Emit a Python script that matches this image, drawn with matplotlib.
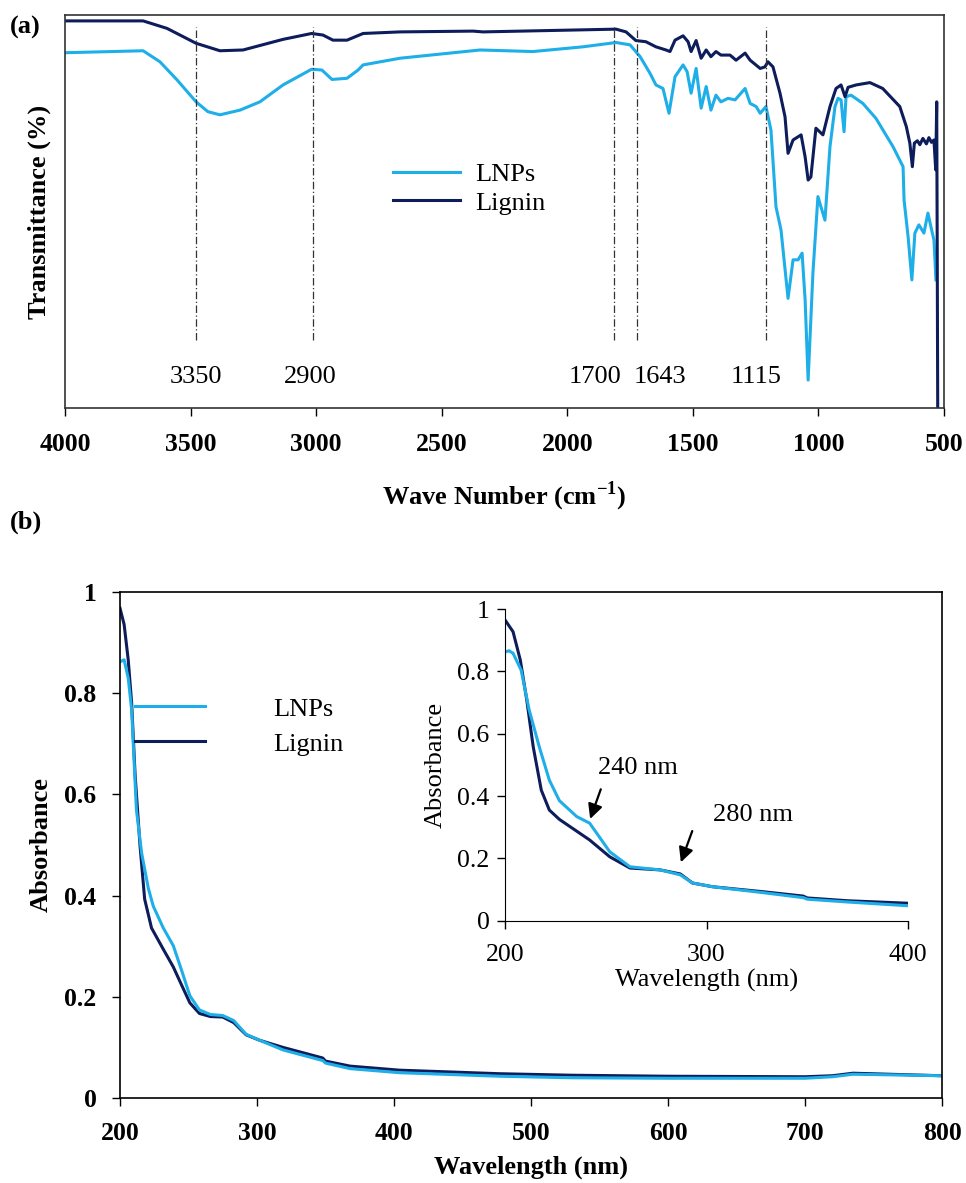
import numpy as np
import matplotlib
matplotlib.use('Agg')
import matplotlib.pyplot as plt
from matplotlib.ticker import FuncFormatter

plt.rcParams['font.family'] = ['Liberation Serif', 'DejaVu Serif']
plt.rcParams['mathtext.fontset'] = 'custom'
plt.rcParams['mathtext.rm'] = 'Liberation Serif'
plt.rcParams['mathtext.bf'] = 'Liberation Serif:bold'

c_lnp = '#1eaee8'
c_lig = '#0d1c5a'

# (a) FTIR spectra (arbitrary transmittance units)
wn_lig = [4000, 3689, 3594, 3478, 3383, 3291, 3132, 3018, 2973, 2933, 2877, 2813, 2666, 2375,
          2336, 1806, 1766, 1727, 1687, 1647, 1607, 1591, 1571, 1539, 1519, 1507, 1487, 1467,
          1447, 1428, 1408, 1388, 1352, 1328, 1292, 1272, 1232, 1213, 1201, 1181, 1153, 1133,
          1121, 1101, 1069, 1053, 1041, 1030, 1010, 982, 954, 930, 910, 894, 882, 850, 795,
          744, 676, 650, 636, 626, 618, 606, 596, 584, 570, 560, 550, 540, 533, 529, 527, 525]
t_lig = [98.5, 98.5, 96.6, 92.8, 90.9, 91.1, 93.8, 95.3, 94.9, 93.6, 93.6, 95.3, 95.7, 95.9,
         95.7, 96.4, 95.7, 93.5, 93.2, 91.9, 91.1, 90.7, 93.6, 94.7, 93.2, 90.7, 93.5, 89.0,
         91.1, 89.4, 90.7, 89.8, 89.8, 88.5, 90.3, 88.5, 86.4, 86.8, 88.1, 86.8, 80.1, 74.1,
         64.8, 68.2, 69.5, 63.9, 58.0, 58.8, 71.2, 69.5, 76.7, 81.3, 82.2, 79.2, 81.6, 82.2, 82.8,
         81.3, 76.7, 71.6, 67.4, 61.4, 67.4, 68.0, 67.0, 68.6, 67.2, 68.8, 67.6, 68.2, 60.6, 77.9, 40.0, 0.0]

wn_lnp = [4000, 3689, 3622, 3554, 3478, 3431, 3383, 3303, 3224, 3132, 3018, 2977, 2937, 2877,
          2833, 2813, 2666, 2347, 2137, 1938, 1806, 1750, 1710, 1671, 1647, 1619, 1595, 1571,
          1539, 1523, 1507, 1487, 1467, 1447, 1428, 1408, 1388, 1360, 1332, 1292, 1272, 1248,
          1232, 1209, 1189, 1169, 1149, 1121, 1101, 1081, 1065, 1053, 1041, 1022, 1002, 990,
          974, 954, 934, 922, 910, 898, 890, 870, 823, 771, 703, 663, 659, 643, 628, 616, 600,
          580, 564, 552, 540, 532]
t_lnp = [90.4, 90.9, 88.1, 83.5, 77.9, 75.4, 74.6, 75.8, 77.9, 82.2, 86.2, 86.0, 83.6, 83.9,
         86.0, 87.3, 89.0, 91.1, 90.7, 91.9, 93.0, 92.4, 89.4, 85.2, 82.2, 81.3, 75.0, 84.3,
         87.3, 85.6, 80.1, 86.4, 76.3, 81.8, 75.8, 79.6, 77.9, 78.8, 78.4, 81.3, 77.5, 76.7,
         75.0, 76.7, 70.7, 51.2, 45.3, 27.9, 37.7, 37.7, 39.4, 27.5, 7.1, 34.3, 53.8, 51.2,
         47.8, 66.5, 76.7, 78.8, 78.4, 70.3, 79.2, 79.6, 77.5, 73.7, 66.5, 61.4, 52.9, 43.6,
         32.6, 44.5, 46.6, 44.5, 49.6, 46.1, 42.7, 32.6]

mark_pos = [3478, 3014, 1815, 1722, 1210]
mark_text = ['3350', '2900', '1700', '1643', '1115']
mark_text_x = [3478, 3025, 1891, 1632, 1249]

# (b) UV-Vis spectra, full range
wl_lig = [200, 203, 206, 208.5, 211, 214.6, 218, 223, 231.6, 238.9, 245, 251, 258, 266, 275, 283,
          292, 302, 319, 348, 350, 368, 404, 477, 530, 600, 700, 720, 735, 800]
a_lig = [0.968, 0.936, 0.866, 0.781, 0.640, 0.499, 0.393, 0.336, 0.294, 0.259, 0.223, 0.188,
         0.167, 0.161, 0.160, 0.149, 0.125, 0.114, 0.100, 0.079, 0.073, 0.063, 0.055, 0.048,
         0.045, 0.043, 0.042, 0.044, 0.049, 0.044]
wl_lnp = [200, 203, 206, 208.5, 212, 215.8, 220.7, 224.3, 231.6, 238.9, 245, 251, 258, 266, 275,
          283, 292, 302, 319, 348, 350, 368, 404, 477, 530, 600, 700, 720, 735, 800]
a_lnp = [0.862, 0.866, 0.830, 0.767, 0.569, 0.484, 0.414, 0.379, 0.336, 0.301, 0.252, 0.202,
         0.174, 0.165, 0.163, 0.153, 0.126, 0.114, 0.095, 0.074, 0.069, 0.058, 0.050, 0.043,
         0.040, 0.039, 0.039, 0.042, 0.047, 0.044]

# inset, 200-400 nm
wl_in_lig = [200, 204, 207.6, 210.8, 214, 218, 222, 227, 242, 252, 262, 277, 287, 293, 303,
             328, 348, 350, 370, 400]
a_in_lig = [0.965, 0.927, 0.836, 0.708, 0.558, 0.419, 0.355, 0.325, 0.259, 0.205, 0.169, 0.163,
            0.150, 0.121, 0.109, 0.093, 0.079, 0.073, 0.064, 0.056]
wl_in_lnp = [200, 202, 204, 208, 212, 217, 222, 227, 235.6, 242, 252, 262, 277, 287, 293, 303,
             328, 348, 350, 370, 400]
a_in_lnp = [0.862, 0.866, 0.858, 0.804, 0.676, 0.558, 0.451, 0.385, 0.334, 0.313, 0.221, 0.173,
            0.163, 0.147, 0.121, 0.109, 0.090, 0.074, 0.069, 0.060, 0.048]

fig = plt.figure(figsize=(9.66, 11.83), dpi=100)
W, H = 966, 1183

# ---------- (a) ----------
ax1 = fig.add_axes([65 / W, 1 - 408 / H, 879 / W, 393 / H])
l1, = ax1.plot(wn_lnp, t_lnp, color=c_lnp, lw=2.2)
l2, = ax1.plot(wn_lig, t_lig, color=c_lig, lw=2.2)
for p in mark_pos:
    ax1.plot([p, p], [17.3, 96.9], color='#333333', lw=0.9, ls=(0, (6, 2, 1, 2)))
for xt, s in zip(mark_text_x, mark_text):
    ax1.text(xt, 7.9, s, fontsize=19, ha='center', va='center')
ax1.set_xlim(4000, 500)
ax1.set_ylim(0, 100)
ax1.set_xticks(np.arange(4000, 499, -500))
ax1.tick_params(axis='x', direction='out', length=6, width=1, labelsize=18.5, pad=12)
ax1.tick_params(axis='y', left=False, labelleft=False)
for lb in ax1.get_xticklabels():
    lb.set_fontweight('bold')
for sp in ax1.spines.values():
    sp.set_linewidth(1.2)
    sp.set_color('#333333')
ax1.set_xlabel(r'Wave Number (cm$^{\mathbf{-1}}$)', fontsize=19, fontweight='bold', labelpad=17)
ax1.set_ylabel('Transmittance (%)', fontsize=19, fontweight='bold', labelpad=10)
ax1.legend([l1, l2], ['LNPs', 'Lignin'], loc='upper left', bbox_to_anchor=(0.373, 0.625),
           frameon=False, fontsize=19, handlelength=2.55, handletextpad=0.57,
           labelspacing=0.2, borderpad=0, borderaxespad=0)

# ---------- (b) ----------
ax2 = fig.add_axes([120 / W, 1 - 1098 / H, 822 / W, 506 / H])
m2, = ax2.plot(wl_lig, a_lig, color=c_lig, lw=2.2)
m1, = ax2.plot(wl_lnp, a_lnp, color=c_lnp, lw=2.2)
ax2.set_xlim(200, 800)
ax2.set_ylim(0, 1)
ax2.set_xticks(np.arange(200, 801, 100))
ax2.set_yticks(np.arange(0, 1.01, 0.2))
ax2.yaxis.set_major_formatter(FuncFormatter(lambda v, p: '%g' % round(v, 1)))
ax2.tick_params(direction='out', length=6, width=1, labelsize=18.5, pad=11)
for lb in ax2.get_xticklabels() + ax2.get_yticklabels():
    lb.set_fontweight('bold')
for sp in ax2.spines.values():
    sp.set_linewidth(1.2)
ax2.set_xlabel('Wavelength (nm)', fontsize=19, fontweight='bold', labelpad=8)
ax2.set_ylabel('Absorbance', fontsize=19, fontweight='bold', labelpad=8)
ax2.legend([m1, m2], ['LNPs', 'Lignin'], loc='upper left', bbox_to_anchor=(0.018, 0.792),
           frameon=False, fontsize=19, handlelength=2.65, handletextpad=2.6,
           labelspacing=0.43, borderpad=0, borderaxespad=0)

# inset
ax3 = fig.add_axes([505 / W, 1 - 920.7 / H, 403 / W, 311.7 / H])
ax3.plot(wl_in_lig, a_in_lig, color=c_lig, lw=2.2)
ax3.plot(wl_in_lnp, a_in_lnp, color=c_lnp, lw=2.2)
ax3.set_xlim(200, 400)
ax3.set_ylim(0, 1)
ax3.set_xticks([200, 300, 400])
ax3.set_yticks(np.arange(0, 1.01, 0.2))
ax3.yaxis.set_major_formatter(FuncFormatter(lambda v, p: '%g' % round(v, 1)))
ax3.spines['top'].set_visible(False)
ax3.spines['right'].set_visible(False)
ax3.tick_params(direction='out', length=6, width=1, labelsize=18.5, pad=5)
ax3.tick_params(axis='x', pad=11)
ax3.set_xlabel('Wavelength (nm)', fontsize=19, labelpad=2)
ax3.set_ylabel('Absorbance', fontsize=19, labelpad=8)
ax3.annotate('', xy=(241.8, 0.318), xytext=(248, 0.43),
             arrowprops=dict(arrowstyle='-|>', color='black', lw=1.6, mutation_scale=22))
ax3.annotate('', xy=(286.8, 0.179), xytext=(293.4, 0.296),
             arrowprops=dict(arrowstyle='-|>', color='black', lw=1.6, mutation_scale=22))
ax3.text(265.8, 0.49, '240 nm', fontsize=19, ha='center', va='center')
ax3.text(323, 0.339, '280 nm', fontsize=19, ha='center', va='center')

fig.text(10 / W, 1 - 27 / H, '(a)', fontsize=19, fontweight='bold', va='center')
fig.text(10 / W, 1 - 522 / H, '(b)', fontsize=19, fontweight='bold', va='center')

fig.savefig('out.png', dpi=100)
